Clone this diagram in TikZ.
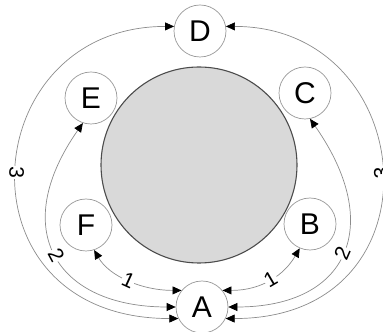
\documentclass[tikz,border=0pt]{standalone}
\usepackage{fontspec}
\setmainfont{Liberation Sans}
\usetikzlibrary{arrows.meta}

\begin{document}
\begin{tikzpicture}[
x=1pt, y=1pt,
>={Triangle[length=9pt,width=8pt,color=black]},
station/.style={draw=black!40, line width=0.7pt, circle, fill=white, minimum size=52pt, inner sep=0pt, font=\fontsize{30}{30}\selectfont},
hop/.style={draw=black!45, line width=0.7pt, <->},
hopnum/.style={fill=white, inner sep=0.6pt, sloped, allow upside down, font=\fontsize{21}{21}\selectfont}
]
\useasboundingbox (0,0) rectangle (383,332);

% central disc
\draw[draw=black!70, line width=1.1pt, fill=black!15] (199,167) circle (98);

\node[station] (A) at (202,25) {A};
\node[station] (B) at (310,108) {B};
\node[station] (C) at (305,239) {C};
\node[station] (D) at (200,301) {D};
\node[station] (E) at (91,234) {E};
\node[station] (F) at (86,107) {F};

% left side
\draw[hop] (F.-72) .. controls +(-60:30) and +(180:40) .. node[hopnum] {1} (A.141);
\draw[hop] (E.252) .. controls +(235:130) and +(180:120) .. node[hopnum] {2} (A.180);
\draw[hop] (D.170) .. controls +(180:200) and +(180:225) .. node[hopnum] {3} (A.206);

% right side
\draw[hop] (A.39) .. controls +(0:40) and +(240:30) .. node[hopnum] {1} (B.247);
\draw[hop] (A.0) .. controls +(0:120) and +(305:130) .. node[hopnum] {2} (C.281);
\draw[hop] (A.-26) .. controls +(0:220) and +(0:195) .. node[hopnum] {3} (D.10);
\end{tikzpicture}
\end{document}
